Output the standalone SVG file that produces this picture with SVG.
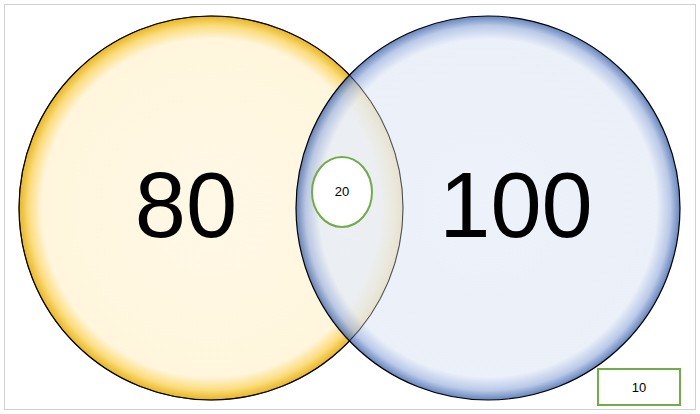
<svg xmlns="http://www.w3.org/2000/svg" width="700" height="414" viewBox="0 0 700 414">
<style>
.big{font-family:"Liberation Sans",Arial,sans-serif;font-size:92px;fill:#000;text-anchor:middle}
.small{font-family:"Liberation Sans",Arial,sans-serif;font-size:13px;fill:#000;text-anchor:middle}
.green{fill:#fff;stroke:#70ad47;stroke-width:2}
</style>
<defs>
<radialGradient id="gy" cx="0.5" cy="0.5" r="0.5">
<stop offset="0" stop-color="#fff8e6"/>
<stop offset="0.88" stop-color="#fff6dd"/>
<stop offset="0.95" stop-color="#fbdc7c"/>
<stop offset="1" stop-color="#e8b521"/>
</radialGradient>
<radialGradient id="gb" cx="0.5" cy="0.5" r="0.5">
<stop offset="0" stop-color="#e9eef8"/>
<stop offset="0.88" stop-color="#e6ecf7"/>
<stop offset="0.95" stop-color="#a9bce2"/>
<stop offset="1" stop-color="#3f66ad"/>
</radialGradient>
</defs>
<rect x="4.5" y="4.5" width="691" height="405" fill="#fff" stroke="#d0d0d0"/>
<g id="left"><circle cx="211" cy="208" r="192" fill="url(#gy)" stroke="#000" stroke-width="1.2"/></g>
<g id="right"><circle cx="488" cy="208" r="192" fill="url(#gb)" fill-opacity="0.8" stroke="#000" stroke-width="1.2"/></g>
<circle cx="211" cy="208" r="192" fill="none" stroke="#000" stroke-opacity="0.6" stroke-width="1"/>
<text class="big" x="186" y="237">80</text>
<text class="big" x="516" y="237">100</text>
<g id="inter"><ellipse class="green" cx="342" cy="192" rx="30" ry="35"/><text class="small" x="342" y="196">20</text></g>
<g id="outside"><rect class="green" x="598" y="369" width="82" height="36"/><text class="small" x="639" y="392">10</text></g>
<g id="connectors"/>
</svg>
